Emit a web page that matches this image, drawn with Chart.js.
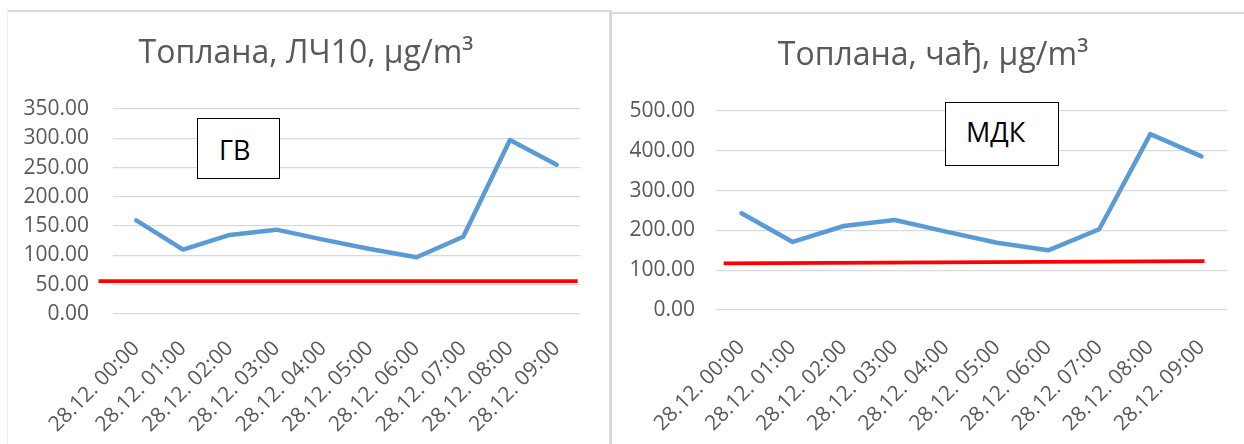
<!DOCTYPE html>
<html lang="sr">

<head>
    <meta charset="UTF-8">
    <title>Топлана</title>
    <script src="https://cdn.jsdelivr.net/npm/chart.js"></script>
    <style>
        body {
            margin: 0;
            width: 1244px;
            height: 444px;
            overflow: hidden;
            background: #ffffff;
            font-family: "Open Sans", sans-serif;
        }

        .frame {
            position: absolute;
            box-sizing: border-box;
        }

        #frameLeft {
            left: 7px;
            top: 10px;
            width: 605px;
            height: 440px;
            border-top: 2px solid #dadada;
            border-left: 1px solid #f0f0f0;
            border-right: 3px solid #d9d9d9;
        }

        #frameRight {
            left: 612px;
            top: 12px;
            width: 640px;
            height: 440px;
            border-top: 2px solid #dadada;
        }

        canvas {
            position: absolute;
        }

        .note {
            position: absolute;
            box-sizing: border-box;
            background: #ffffff;
            border: 1.5px solid #000000;
            color: #000000;
            font-size: 27px;
            line-height: 27px;
        }

        .note span {
            position: absolute;
        }
    </style>
</head>

<body>
    <div class="frame" id="frameLeft"></div>
    <div class="frame" id="frameRight"></div>

    <canvas id="graficoPM10" style="left:7px; top:10px; width:602px; height:434px;"></canvas>
    <canvas id="graficoCad" style="left:612px; top:12px; width:632px; height:432px;"></canvas>

    <div class="note" style="left:197px; top:118px; width:83px; height:61px;">
        <span style="left:21px; top:17px;">ГВ</span>
    </div>
    <div class="note" style="left:945px; top:102px; width:114px; height:64px;">
        <span style="left:20px; top:15px;">МДК</span>
    </div>

    <script>
        // sati merenja
        const labels = ['28.12. 00:00', '28.12. 01:00', '28.12. 02:00', '28.12. 03:00', '28.12. 04:00',
            '28.12. 05:00', '28.12. 06:00', '28.12. 07:00', '28.12. 08:00', '28.12. 09:00']

        // ЛЧ10 (PM10), µg/m3
        const pm10 = [160, 110, 135, 144, 127, 111, 97, 132, 297, 255]
        // чађ, µg/m3
        const cad = [243, 171, 211, 226, 197, 169, 150, 203, 442, 386]

        // granicne linije (ГВ i МДК), x u jedinicama kategorija
        const gvX = [-0.81, 9.45]
        const gvY = [56, 56]
        const mdkX = [-0.35, 9.06]
        const mdkY = [117, 123]

        // podela y ose
        const pm10Max = 350
        const pm10Step = 50
        const cadMax = 500
        const cadStep = 100

        const sivo = '#595959'

        function napraviGrafik(id, naslov, vrednosti, limX, limY, maxY, korak, o) {
            const granica = limX.map(function (x, i) {
                return { x: x, y: limY[i] }
            })

            new Chart(document.getElementById(id), {
                type: 'line',
                data: {
                    labels: labels,
                    datasets: [
                        {
                            data: vrednosti,
                            borderColor: '#5b9bd5',
                            borderWidth: 4.5,
                            borderCapStyle: 'round',
                            borderJoinStyle: 'round',
                            pointRadius: 0,
                            tension: 0,
                            fill: false
                        },
                        {
                            data: granica,
                            xAxisID: 'xl',
                            borderColor: '#ff0000',
                            borderWidth: 3.7,
                            pointRadius: 0,
                            fill: false,
                            clip: false
                        }
                    ]
                },
                options: {
                    responsive: false,
                    animation: false,
                    devicePixelRatio: 1,
                    layout: {
                        padding: { left: o.left, right: o.right, top: 0, bottom: 0 }
                    },
                    plugins: {
                        legend: { display: false },
                        tooltip: { enabled: false },
                        title: {
                            display: true,
                            text: naslov,
                            color: sivo,
                            font: { family: 'Open Sans', size: 32, weight: 'normal' },
                            padding: { top: 25, bottom: 35.6 }
                        }
                    },
                    scales: {
                        x: {
                            type: 'category',
                            offset: true,
                            grid: { display: false },
                            border: { display: false },
                            ticks: {
                                color: sivo,
                                font: { family: 'Open Sans', size: 21 },
                                minRotation: 45,
                                maxRotation: 45,
                                autoSkip: false,
                                padding: o.xPad
                            },
                            afterFit: function (scale) { scale.height = o.xHeight }
                        },
                        xl: {
                            type: 'linear',
                            display: false,
                            min: -0.5,
                            max: labels.length - 0.5
                        },
                        y: {
                            min: 0,
                            max: maxY,
                            grid: { color: '#d9d9d9', lineWidth: 1.3, drawTicks: false },
                            border: { display: false },
                            ticks: {
                                stepSize: korak,
                                color: sivo,
                                font: { family: 'Open Sans', size: 21 },
                                padding: o.yPad,
                                callback: function (v) { return v.toFixed(2) }
                            },
                            afterFit: function (scale) { scale.width = o.yWidth }
                        },
                        // prazna osa desno, samo da naslov bude centriran kao u originalu
                        yr: {
                            type: 'linear',
                            position: 'right',
                            min: 0,
                            max: 1,
                            grid: { display: false },
                            border: { display: false },
                            ticks: { display: false },
                            afterFit: function (scale) { scale.width = o.rightBox }
                        }
                    }
                }
            })
        }

        napraviGrafik('graficoPM10', 'Топлана, ЛЧ10, µg/m³', pm10, gvX, gvY, pm10Max, pm10Step,
            { left: 17, right: 21, yWidth: 89, yPad: 24, xPad: 14, xHeight: 130, rightBox: 8 })

        napraviGrafik('graficoCad', 'Топлана, чађ, µg/m³', cad, mdkX, mdkY, cadMax, cadStep,
            { left: 16, right: 6, yWidth: 88, yPad: 21, xPad: 17, xHeight: 134, rightBox: 11 })
    </script>
</body>

</html>
